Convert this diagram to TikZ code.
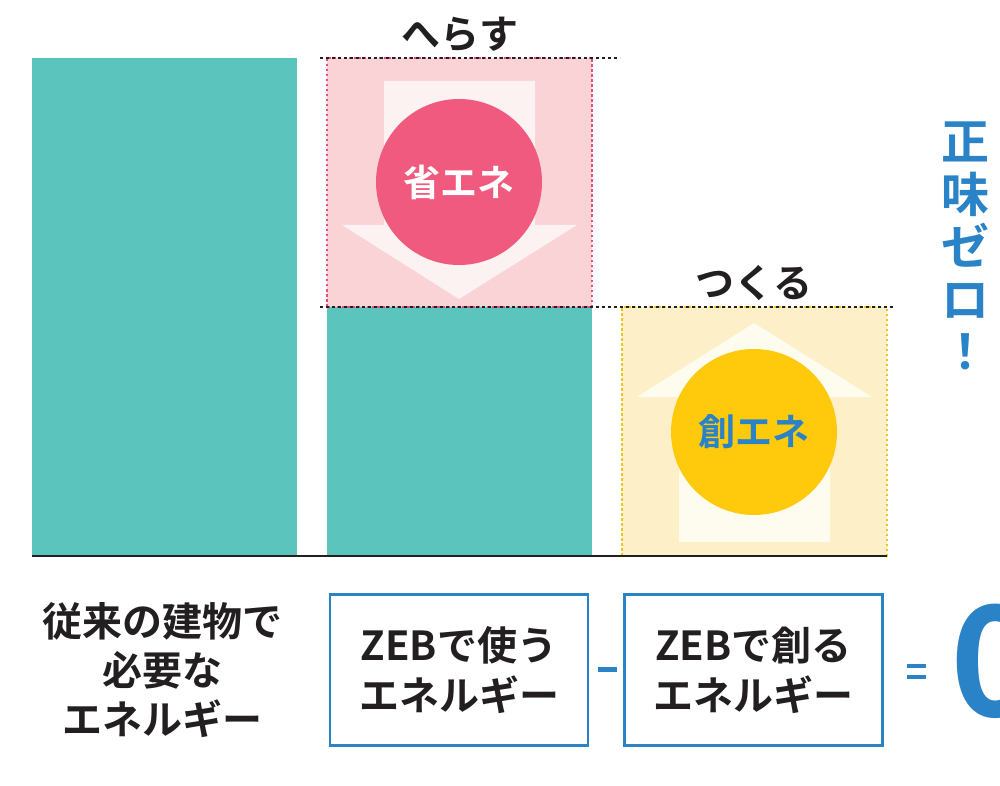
\documentclass[tikz,border=0pt]{standalone}
\usepackage{fontspec}
\setmainfont{Noto Sans CJK JP}[BoldFont=* Bold]
\definecolor{teal}{HTML}{5BC4BC}
\definecolor{pinkbg}{HTML}{F9D3D6}
\definecolor{pinkarrow}{HTML}{FCF2F2}
\definecolor{pinkcircle}{HTML}{F05A7E}
\definecolor{pinkdash}{HTML}{E94B7A}
\definecolor{yellowbg}{HTML}{FDF0C9}
\definecolor{yellowarrow}{HTML}{FEFBEF}
\definecolor{yellowcircle}{HTML}{FFCA0C}
\definecolor{yellowdash}{HTML}{F7C21B}
\definecolor{zblue}{HTML}{2A83C6}
\definecolor{dark}{HTML}{231F20}
\tikzset{
  bar/.style={fill=teal, inner sep=0pt, outer sep=0pt, anchor=north west, minimum width=265pt},
  panel/.style={inner sep=0pt, outer sep=0pt, anchor=north west, minimum width=265pt, minimum height=249pt, dash pattern=on 2.5pt off 2.5pt, line width=1.1pt},
  level/.style={draw=dark, line width=1.4pt, dash pattern=on 3pt off 3pt},
  badge/.style={circle, minimum size=166pt, inner sep=0pt, font=\fontsize{37}{40}\selectfont\bfseries},
  lbl/.style={text=dark, font=\fontsize{39}{44}\selectfont\bfseries},
  eqbox/.style={draw=zblue, line width=2.4pt, fill=white, minimum width=258pt, minimum height=151pt, align=center, text=dark, font=\fontsize{40}{50}\selectfont\bfseries},
  op/.style={fill=zblue}
}
\begin{document}
\begin{tikzpicture}[x=1pt,y=-1pt]
\useasboundingbox (0,0) rectangle (1000,786);
% bars
\node[bar, minimum height=498pt] (bar1) at (32,58) {};
\node[bar, minimum height=249pt] (bar2) at (327,307) {};
% reduce panel
\node[panel, fill=pinkbg, draw=pinkdash] (pbox) at (327,58) {};
\fill[pinkarrow] (384,81) -- (535,81) -- (535,225) -- (577,225) -- (459,299) -- (342,225) -- (384,225) -- cycle;
\node[badge, fill=pinkcircle, text=white] (shoene) at (459,182) {省エネ};
% create panel
\node[panel, fill=yellowbg, draw=yellowdash] (ybox) at (622,307) {};
\fill[yellowarrow] (754,323) -- (872,397) -- (830,397) -- (830,542) -- (679,542) -- (679,397) -- (637,397) -- cycle;
\node[badge, fill=yellowcircle, text=zblue] (souene) at (754,432) {創エネ};
% level lines
\coordinate (t1) at (320,58);
\coordinate (t2) at (620,58);
\coordinate (m1) at (320,307);
\coordinate (m2) at (893,307);
\draw[level] (t1) -- (t2);
\draw[level] (m1) -- (m2);
\draw[dark, line width=2pt] (bar1.south west) -- (ybox.south east);
% labels
\node[lbl] (herasu) at (460,34) {へらす};
\node[lbl] (tsukuru) at (754,283) {つくる};
% vertical text
\node[text=zblue, align=center, font=\fontsize{48}{52.5}\selectfont\bfseries] (zero) at (965,246) {正\\味\\ゼ\\ロ\\！};
% bottom equation
\node[align=center, text=dark, font=\fontsize{40}{49}\selectfont\bfseries] (old) at (162,670) {従来の建物で\\必要な\\エネルギー};
\node[eqbox] (use) at (459,670) {ZEBで使う\\エネルギー};
\node[eqbox] (make) at (753.5,670) {ZEBで創る\\エネルギー};
\fill[op] (597.5,667) rectangle (617,671.5);
\fill[op] (907,663.5) rectangle (926,667.5);
\fill[op] (907,675) rectangle (926,679);
\node[text=zblue, anchor=west, inner sep=0pt, font=\fontsize{153}{160}\selectfont\bfseries] (nil) at (950,661) {0};
\end{tikzpicture}
\end{document}
